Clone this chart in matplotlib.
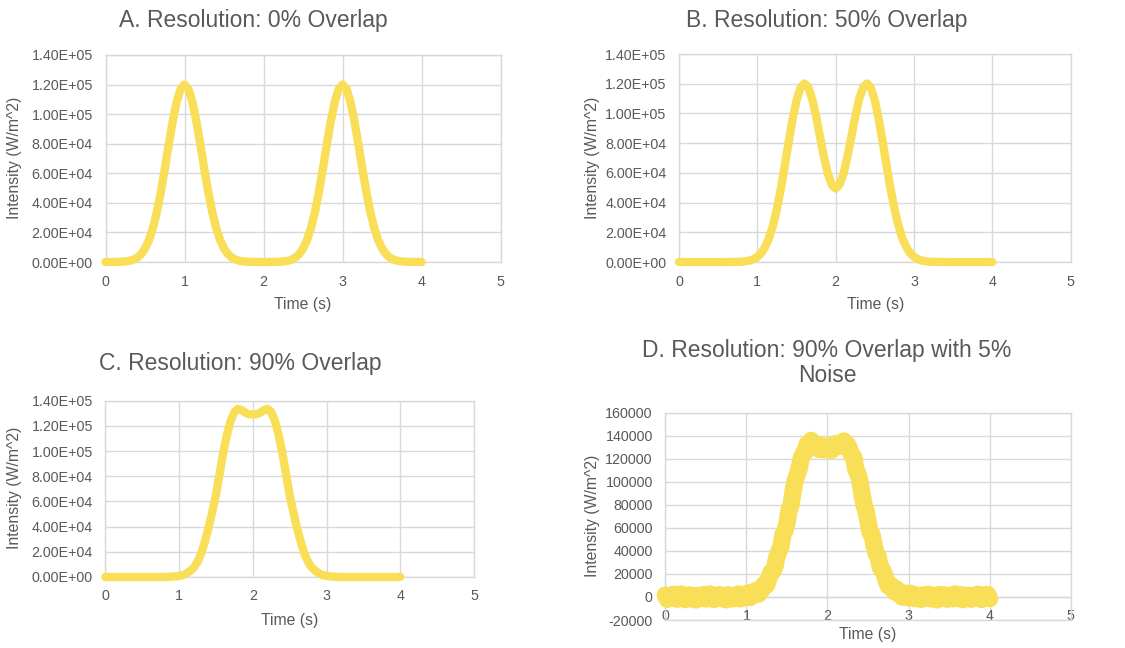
import numpy as np
import matplotlib
matplotlib.use("Agg")
import matplotlib.pyplot as plt
from matplotlib.ticker import FuncFormatter

plt.rcParams['font.family'] = ['Liberation Sans', 'DejaVu Sans']

# sample times (s)
t_coarse = np.linspace(0, 4, 81)    # 0.05 s steps, panels A-C
t_fine = np.linspace(0, 4, 161)     # 0.025 s steps, panel D

# A. 0% overlap, peaks at 1 s and 3 s
int_a = [0, 10, 30, 70, 160, 360, 760, 1530, 2910, 5270,
         9070, 14800, 23000, 33900, 47400, 62900, 79400, 95100, 108200, 116900,
         120000, 116900, 108200, 95100, 79400, 62900, 47400, 33900, 23000, 14800,
         9070, 5270, 2910, 1530, 760, 360, 160, 70, 30, 10,
         0,
         10, 30, 70, 160, 360, 760, 1530, 2910, 5270, 9070,
         14800, 23000, 33900, 47400, 62900, 79400, 95100, 108200, 116900, 120000,
         116900, 108200, 95100, 79400, 62900, 47400, 33900, 23000, 14800, 9070,
         5270, 2910, 1530, 760, 360, 160, 70, 30, 10, 0]

# B. 50% overlap, peaks at 1.6 s and 2.4 s
int_b = [0, 0, 0, 0, 0, 0, 0, 0, 0, 0, 0, 0, 0,
         16, 40, 95, 215, 460, 950, 1850, 3430, 6050, 10200,
         16200, 24700, 35800, 49300, 64700, 80800, 96100, 108700, 117200, 120200,
         117600, 109700, 98000, 84200, 70800, 59500, 52000, 49400, 52000, 59500,
         70800, 84200, 98000, 109700, 117600, 120200, 117200, 108700, 96100, 80800,
         64700, 49300, 35800, 24700, 16200, 10200, 6050, 3430, 1850, 950,
         460, 215, 95, 40, 16,
         0, 0, 0, 0, 0, 0, 0, 0, 0, 0, 0, 0, 0]

# C. 90% overlap, peaks at 1.8 s and 2.2 s
int_c = [0, 0, 0, 0, 0, 0, 0, 0, 0, 0, 0, 0, 0, 0, 0, 0, 0,
         100, 300, 500, 800, 1500, 2800, 4800, 7500, 12000, 18500,
         28000, 39000, 51500, 65000, 82000, 99000, 113000, 124000, 131000, 133500,
         132500, 130500, 129300, 129000, 129300, 130500, 132500, 133500, 131000, 124000,
         113000, 99000, 82000, 65000, 51500, 39000, 28000, 18500, 12000, 7500,
         4800, 2800, 1500, 800, 500, 300, 100,
         0, 0, 0, 0, 0, 0, 0, 0, 0, 0, 0, 0, 0, 0, 0, 0, 0]

# D. 90% overlap with 5% noise (dense noisy trace)
int_d = [1600, -2050, 750, -1300, 2400, -250, -1950, 1150, 2550, -900,
         -2350, 300, 1750, -1500, 950, -2600, 1350, 200, -1100, 2150,
         -1800, 550, 2650, -650, -2200, 1450, -350, 1900, -1450, 450,
         -2500, 2050, 850, -1650, 1200, -550, 2600, -1700, 650, 2200,
         -450, 3600, -400, 2750, 2500, 5900, 2350, 7000, 6700, 11450,
         10450, 15400, 21100, 22000, 25750, 34800, 39500, 43300, 53850, 57550,
         63650, 75150, 79450, 91300, 101000, 105800, 111150, 120100, 124250, 125850,
         132800, 131650, 135950, 133100, 130750, 132400, 128100, 131300, 129650, 127600,
         131100, 128500, 127300, 131050, 133200, 130650, 130900, 133800, 135450, 130500,
         132050, 127850, 122800, 121250, 110350, 107200, 100700, 89550, 79950, 74900,
         65300, 56200, 54000, 44600, 37700, 35550, 25800, 23950, 20100, 14250,
         9500, 10750, 7650, 4500, 7100, 2650, 3300, -250, 3400, 800,
         -650, 3200, -50, -1500, 1650, 750, -2100, 1750, -1250, 400,
         2350, -1650, -500, 1000, -2600, 2150, 550, -1000, 1800, -2000,
         100, 1450, -1750, 2650, -700, -1400, 2000, -2400, 850, 1550,
         -300, -1950, 1200, -1100, 2400, 450, -2250, 1650, -850, 2200,
         -1500]

x_ticks = [0, 1, 2, 3, 4, 5]
sci_ticks = [0, 20000, 40000, 60000, 80000, 100000, 120000, 140000]
d_ticks = [-20000, 0, 20000, 40000, 60000, 80000, 100000, 120000, 140000, 160000]

titles = ["A. Resolution: 0% Overlap", "B. Resolution: 50% Overlap",
          "C. Resolution: 90% Overlap", "D. Resolution: 90% Overlap with 5%\nNoise"]

W, H = 1125, 648
TXT = '#595959'
GRID = '#D9D9D9'
YEL = '#F9DE57'


def px_axes(fig, left, right, top, bottom):
    return fig.add_axes([left / W, 1 - bottom / H, (right - left) / W, (bottom - top) / H])


def style(ax, yticks, fmt):
    ax.set_xlim(0, 5)
    ax.set_xticks(x_ticks)
    ax.set_ylim(yticks[0], yticks[-1])
    ax.set_yticks(yticks)
    ax.yaxis.set_major_formatter(FuncFormatter(fmt))
    ax.grid(True, color=GRID, linewidth=1.0)
    ax.set_axisbelow(True)
    for s in ax.spines.values():
        s.set_color(GRID)
        s.set_linewidth(1.0)
    ax.tick_params(length=0, labelsize=10.3, labelcolor=TXT)
    ax.tick_params(axis='x', pad=9)
    ax.tick_params(axis='y', pad=9)


def sci(v, pos):
    return f"{v:.2E}"


def plain(v, pos):
    return f"{int(v)}"


fig = plt.figure(figsize=(W / 100, H / 100), dpi=100)

ax_a = px_axes(fig, 105.5, 500.7, 55, 262)
ax_b = px_axes(fig, 679, 1070.7, 54, 262)
ax_c = px_axes(fig, 105.3, 474, 400.7, 577)
ax_d = px_axes(fig, 665.3, 1070.7, 412.7, 620)

line_kw = dict(color=YEL, solid_capstyle='round',
               solid_joinstyle='round', clip_on=False, zorder=3)

for ax, y in [(ax_a, int_a), (ax_b, int_b), (ax_c, int_c)]:
    style(ax, sci_ticks, sci)
    ax.plot(t_coarse, y, linewidth=6.0, **line_kw)

style(ax_d, d_ticks, plain)
ax_d.spines['bottom'].set_position(('data', 0))
ax_d.axhline(d_ticks[0], color=GRID, linewidth=1.0, clip_on=False, zorder=1)
ax_d.plot(t_fine, int_d, linewidth=12.5, **line_kw)

# titles, centred on each chart area
title_pos = [(253, 20), (827, 20), (240, 363), (827, 363)]
for (x, y), txt in zip(title_pos, titles):
    fig.text(x / W, 1 - y / H, txt, ha='center', va='center', fontsize=16.5,
             color=TXT, linespacing=1.15)

# axis titles
xlab_pos = [(303, 305), (876, 305), (290, 620), (868, 635)]
for x, y in xlab_pos:
    fig.text(x / W, 1 - y / H, "Time (s)", ha='center', va='center',
             fontsize=11.3, color=TXT)

ylab_pos = [(15, 158), (592, 158), (15, 488), (592, 516)]
for x, y in ylab_pos:
    fig.text(x / W, 1 - y / H, "Intensity (W/m^2)", ha='center', va='center',
             fontsize=11.3, color=TXT, rotation=90)

fig.savefig("out.png", dpi=100, facecolor='white')
